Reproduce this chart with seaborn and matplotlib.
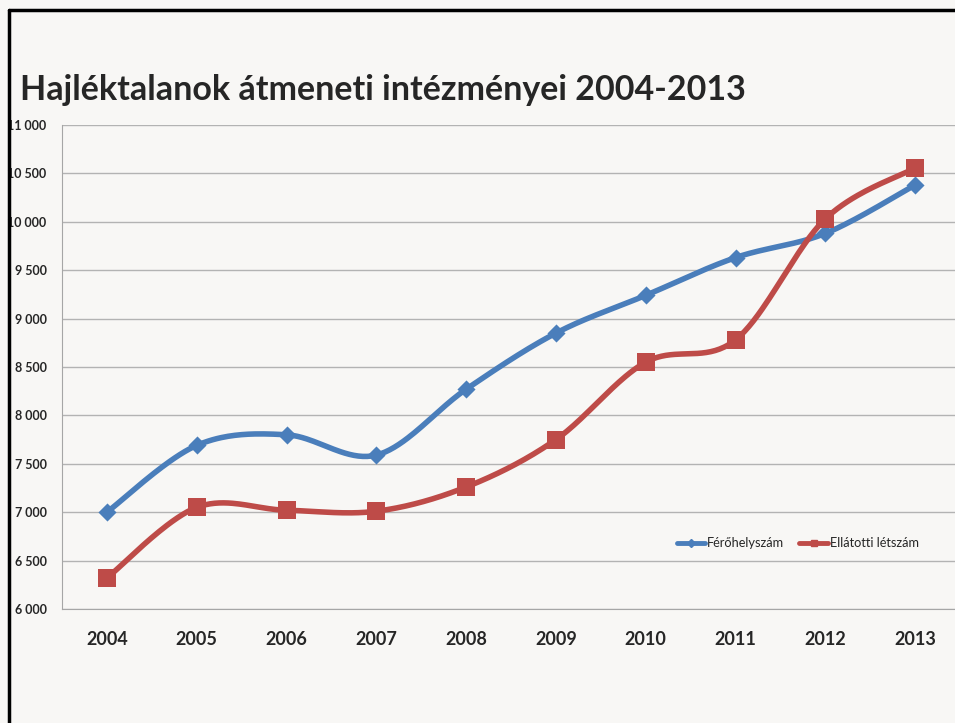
import matplotlib

matplotlib.use("Agg")
import matplotlib.pyplot as plt
import numpy as np
import seaborn as sns
from matplotlib.lines import Line2D
from matplotlib.ticker import FuncFormatter

years = ["2004", "2005", "2006", "2007", "2008", "2009", "2010", "2011", "2012", "2013"]
ferohely = [7000, 7690, 7800, 7590, 8270, 8850, 9240, 9630, 9880, 10380]
ellatott = [6320, 7050, 7020, 7010, 7260, 7750, 8550, 8780, 10030, 10555]

BLUE = "#4a7ebb"
RED = "#be4b48"


def smooth(xs, ys, n=40):
    # Excel-style smoothed line: cubic Bezier segments through the points
    pts = np.column_stack([xs, ys]).astype(float)
    p = np.vstack([pts[0], pts, pts[-1]])
    t = np.linspace(0, 1, n, endpoint=False)[:, None]
    parts = []
    for i in range(1, len(p) - 2):
        p0, p1, p2, p3 = p[i - 1], p[i], p[i + 1], p[i + 2]
        c1 = p1 + (p2 - p0) / 6
        c2 = p2 - (p3 - p1) / 6
        parts.append((1 - t) ** 3 * p1 + 3 * (1 - t) ** 2 * t * c1 + 3 * (1 - t) * t ** 2 * c2 + t ** 3 * p2)
    parts.append(pts[-1:])
    return np.vstack(parts)


sns.set_style("white")
plt.rcParams["font.family"] = ["Lato", "DejaVu Sans"]

fig = plt.figure(figsize=(9.55, 7.23), dpi=100)
fig.patch.set_facecolor("#f8f7f5")
ax = fig.add_axes([62 / 955, 1 - 609 / 723, 898 / 955, (609 - 125) / 723])
ax.set_facecolor("none")

x = np.arange(len(years))
for vals, color, marker, size in [(ferohely, BLUE, "D", 85), (ellatott, RED, "s", 165)]:
    curve = smooth(x, vals)
    sns.lineplot(x=curve[:, 0], y=curve[:, 1], sort=False, color=color, lw=4, ax=ax, zorder=3)
    sns.scatterplot(x=x, y=vals, color=color, marker=marker, s=size, linewidth=0, ax=ax, zorder=4)

ax.set_xlim(-0.5, len(years) - 0.5)
ax.set_ylim(6000, 11000)
ax.set_yticks(np.arange(6000, 11001, 500))
ax.yaxis.set_major_formatter(FuncFormatter(lambda v, _: f"{int(v):,}".replace(",", " ")))
ax.set_xticks(x)
ax.set_xticklabels(years)
ax.grid(axis="y", color="#b3b3b3", lw=1)
for side in ["top", "right"]:
    ax.spines[side].set_visible(False)
for side in ["left", "bottom"]:
    ax.spines[side].set_color("#a6a6a6")
ax.tick_params(axis="y", labelsize=9, pad=11, length=0)
ax.tick_params(axis="x", labelsize=13, pad=16, length=0)
for lab in ax.get_yticklabels() + ax.get_xticklabels():
    lab.set_fontweight("bold")

handles = [
    Line2D([], [], color=BLUE, lw=3.5, marker="D", markersize=4),
    Line2D([], [], color=RED, lw=3.5, marker="s", markersize=4),
]
fig.legend(handles, ["Férőhelyszám", "Ellátotti létszám"], loc="center right",
           bbox_to_anchor=(930 / 955, 1 - 543 / 723), ncol=2, frameon=False,
           fontsize=9.2, handlelength=2.2, handletextpad=0.15, columnspacing=1.2)

fig.text(20 / 955, 1 - 100 / 723, "Hajléktalanok átmeneti intézményei 2004-2013",
         fontsize=24.5, fontweight="bold", va="baseline", ha="left")

# slide frame
fig.add_artist(Line2D([9 / 955, 9 / 955], [0, 1 - 10 / 723], color="black", lw=2.5, transform=fig.transFigure))
fig.add_artist(Line2D([9 / 955, 1], [1 - 10 / 723, 1 - 10 / 723], color="black", lw=2.5, transform=fig.transFigure))

fig.savefig("out.png", dpi=100, facecolor=fig.get_facecolor())
